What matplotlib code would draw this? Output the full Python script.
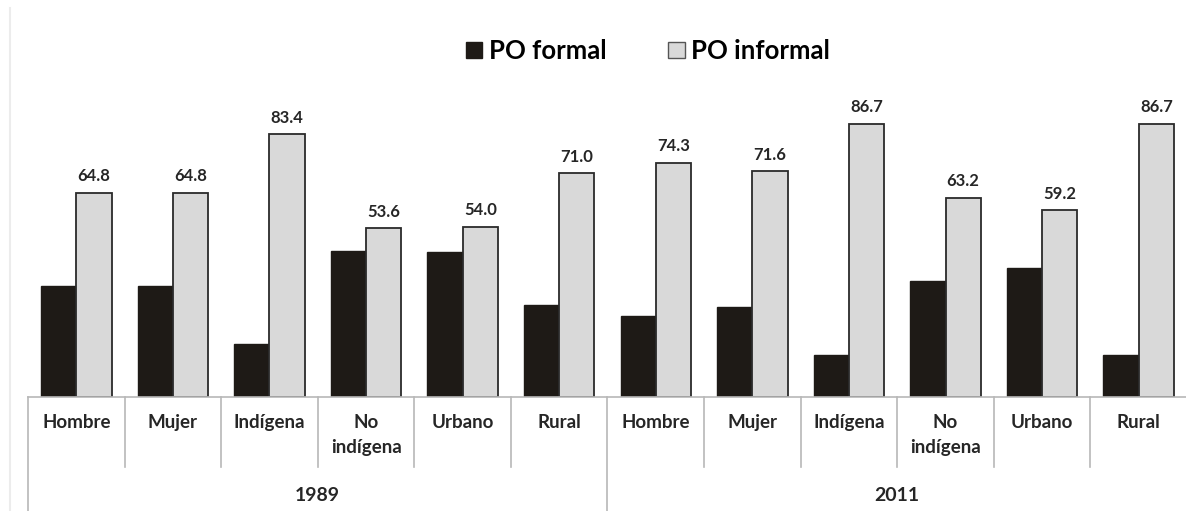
import matplotlib.pyplot as plt
from matplotlib.patches import Patch

# data
years = ['1989', '2011']
categories = ['Hombre', 'Mujer', 'Indígena', 'No\nindígena', 'Urbano', 'Rural']
po_formal = [35.2, 35.2, 16.6, 46.4, 46.0, 29.0,
             25.7, 28.4, 13.3, 36.8, 40.8, 13.3]
po_informal = [64.8, 64.8, 83.4, 53.6, 54.0, 71.0,
               74.3, 71.6, 86.7, 63.2, 59.2, 86.7]

W, H = 1186, 511
FONT = ['Lato', 'DejaVu Sans']
DARK = '#1e1a16'
LIGHT = '#d9d9d9'
GRID = '#b8b8b8'
TXT = '#262626'

plt.rcParams['font.family'] = FONT

fig = plt.figure(figsize=(W / 100, H / 100), dpi=100)
base = 396.5
ax = fig.add_axes([28 / W, 1 - base / H, (1187 - 28) / W, (base - 0) / H])

n = len(po_formal)
x = list(range(n))
bw = 0.365

ax.bar([i - bw / 2 for i in x], po_formal, bw, color=DARK, edgecolor=DARK, linewidth=1)
ax.bar([i + bw / 2 for i in x], po_informal, bw, color=LIGHT, edgecolor='#2a2a2a', linewidth=1.3)

for i, v in enumerate(po_informal):
    ax.annotate(f'{v:.1f}', (i + bw / 2, v), xytext=(0, 6), textcoords='offset points',
                ha='center', va='bottom', fontsize=12, fontweight='bold', color=TXT)

ax.set_xlim(-0.5, n - 0.5)
ax.set_ylim(0, base / 3.146)
ax.set_xticks([])
ax.set_yticks([])
for s in ['left', 'right', 'top']:
    ax.spines[s].set_visible(False)
ax.spines['bottom'].set_color(GRID)
ax.spines['bottom'].set_linewidth(1.2)

# category separators and labels under the axis
tr = ax.get_xaxis_transform()
ah = base  # axes height in px
sep_short = -(467 - base) / ah
sep_long = -(515 - base) / ah
per = len(categories)
for k in range(n + 1):
    edge = k - 0.5
    y1 = sep_long if k % per == 0 else sep_short
    ax.plot([edge, edge], [0, y1], transform=tr, color=GRID, lw=1.2, clip_on=False)

for i in x:
    ax.text(i, -(414 - base) / ah, categories[i % per], transform=tr, ha='center', va='top',
            fontsize=13.5, fontweight='bold', color=TXT, linespacing=1.55)

for g, yr in enumerate(years):
    ax.text(g * per + (per - 1) / 2, -(495 - base) / ah, yr, transform=tr, ha='center',
            va='center', fontsize=14, fontweight='bold', color=TXT)

# faint chart frame on the left
fig.add_artist(plt.Line2D([10 / W, 10 / W], [0, 1 - 8 / H], color='#ececec', lw=1.5))

handles = [Patch(facecolor=DARK, edgecolor=DARK, label='PO formal'),
           Patch(facecolor=LIGHT, edgecolor='#555555', label='PO informal')]
fig.legend(handles=handles, loc='center', bbox_to_anchor=(648 / W, 1 - 51 / H), ncol=2,
           frameon=False, handlelength=0.65, handleheight=0.6, handletextpad=0.25,
           columnspacing=2.4, prop={'size': 18.5, 'weight': 'bold', 'family': FONT})

fig.savefig('out.png', dpi=100, facecolor='white')
